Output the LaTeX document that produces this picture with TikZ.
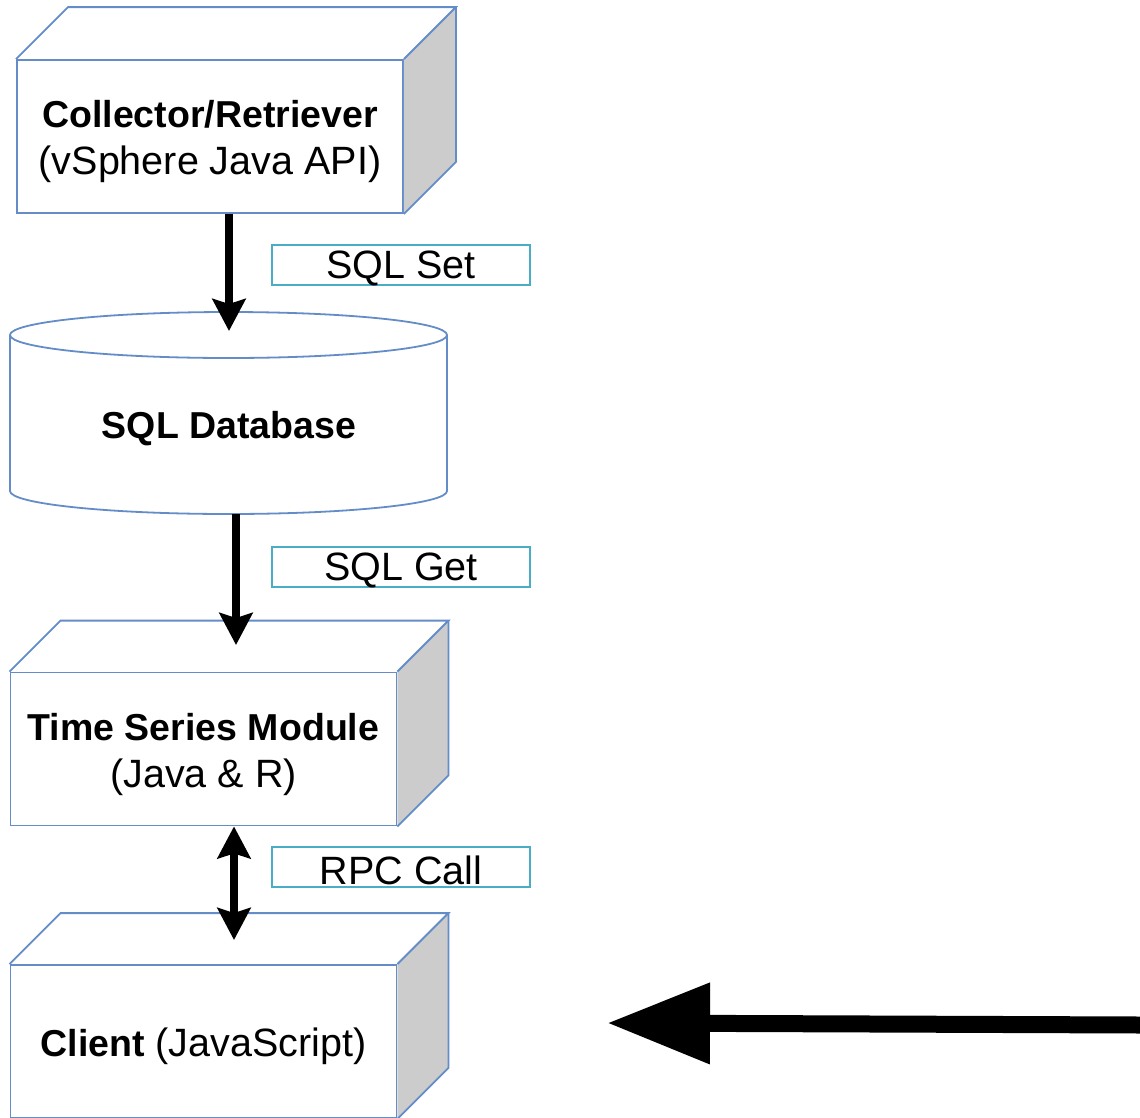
\documentclass[tikz,border=0pt]{standalone}
\usepackage{fontspec}
\setmainfont{Liberation Sans}
\usetikzlibrary{arrows.meta,calc}
\definecolor{boxblue}{RGB}{100,140,200}
\definecolor{labcyan}{RGB}{75,172,198}
\definecolor{sidegray}{RGB}{204,204,204}
\newcommand\drawdepth[2]{% node name, depth
  \fill[sidegray] (#1.north east) -- ($(#1.north east)+(#2,-#2)$) -- ($(#1.south east)+(#2,-#2)$) -- (#1.south east) -- cycle;
  \draw[boxline] (#1.north west) -- ($(#1.north west)+(#2,-#2)$) -- ($(#1.north east)+(#2,-#2)$) -- (#1.north east);
  \draw[boxline] ($(#1.north east)+(#2,-#2)$) -- ($(#1.south east)+(#2,-#2)$) -- (#1.south east);
}
\newcommand\bt[1]{{\fontsize{37.5}{47}\selectfont\bfseries #1}}
\begin{document}
\begin{tikzpicture}[x=1pt,y=-1pt,
  boxline/.style={draw=boxblue,line width=1.8pt,line join=miter},
  frontbox/.style={boxline,fill=white,minimum width=386pt,minimum height=153pt,inner sep=0pt,align=center},
  boxtext/.style={align=center,inner sep=0pt,font=\fontsize{39.5}{47}\selectfont},
  labelbox/.style={draw=labcyan,line width=2pt,minimum width=258pt,minimum height=40pt,inner sep=0pt},
  labeltext/.style={inner sep=0pt,font=\fontsize{39.5}{47}\selectfont},
  varrow/.style={line width=8pt,-{Stealth[length=32pt,width=33pt,inset=5pt]}},
  darrow/.style={line width=8pt,{Stealth[length=32pt,width=33pt,inset=5pt]}-{Stealth[length=32pt,width=33pt,inset=5pt]}},
  bigarrow/.style={line width=17pt,-{Triangle[length=103pt,width=77pt]}}]
\useasboundingbox (0,0) rectangle (1140,1117);

% Collector box
\node[frontbox] (col) at (210,136.5) {};
\drawdepth{col}{52}
\node[boxtext] (colt) at (210,142) {\bt{Collector/Retriever}\\(vSphere Java API)};

% Database cylinder
\fill[white] (10,335) -- (10,491) arc[start angle=180,end angle=360,x radius=218.5pt,y radius=23pt] -- (447,335) -- cycle;
\draw[boxline] (10,335) -- (10,491) arc[start angle=180,end angle=360,x radius=218.5pt,y radius=23pt] -- (447,335);
\draw[boxline] (228.5,335) ellipse[x radius=218.5pt,y radius=23pt];
\node[inner sep=0pt] (db) at (229,429) {\bt{SQL Database}};
\coordinate (dbtop) at (229,331);
\coordinate (dbbot) at (236,514);

% Time series box
\node[frontbox] (ts) at (203.5,749) {};
\drawdepth{ts}{51}
\node[boxtext] (tst) at (203.5,754) {\bt{Time Series Module}\\(Java \& R)};
\coordinate (tstop) at (236,645);

% Client box
\node[frontbox] (cl) at (203.5,1041.5) {};
\drawdepth{cl}{51}
\node[boxtext] (clt) at (203.5,1046) {\bt{Client} (JavaScript)};
\coordinate (cltop) at (234,940);

% connectors
\draw[varrow] (col.south -| dbtop) -- (dbtop);
\draw[varrow] (dbbot) -- (tstop);
\draw[darrow] (ts.south -| cltop) -- (cltop);

% labels
\node[labelbox] (l1) at (401,265) {};
\node[labeltext] at (401,268) {SQL Set};
\node[labelbox] (l2) at (401,567) {};
\node[labeltext] at (401,570) {SQL Get};
\node[labelbox] (l3) at (401,867) {};
\node[labeltext] at (401,870) {RPC Call};

% big arrow
\coordinate (bigS) at (1141,1025);
\coordinate (bigE) at (607,1023);
\draw[bigarrow] (bigS) -- (bigE);
\end{tikzpicture}
\end{document}
